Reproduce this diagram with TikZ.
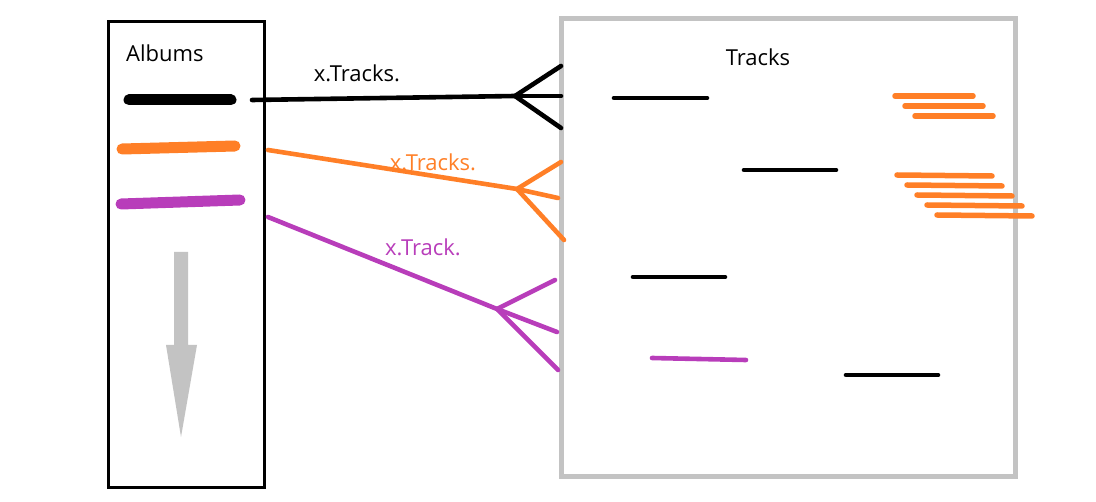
\documentclass[tikz,border=0pt]{standalone}
\usepackage{fontspec}
\setmainfont{Open Sans}
\definecolor{penorange}{RGB}{255,127,39}
\definecolor{penpurple}{RGB}{184,61,186}
\definecolor{pengray}{RGB}{195,195,195}
\tikzset{
  pen/.style={line width=4.6, line cap=round, line join=round},
  fat/.style={line width=11, line cap=round},
  label/.style={font=\fontsize{22}{26}\selectfont, inner sep=0pt}
}
\begin{document}
\begin{tikzpicture}[x=1pt, y=-1pt]
	\useasboundingbox (0,0) rectangle (1096,502);
	% the two boxes
	\draw[line width=3] (108,22) rectangle (264,488);
	\draw[pengray, line width=5] (561,19) rectangle (1015,477);
	\node[label, anchor=west] (albums) at (126,53) {Albums};
	\node[label] (tracks) at (758,57) {Tracks};
	% albums
	\draw[fat] (129,100) -- (231,100);
	\draw[fat, penorange] (122,149) -- (235,146);
	\draw[fat, penpurple] (121,204) -- (240,200);
	% order arrow
	\fill[pengray] (174,252) -- (188,252) -- (188,345) -- (197,345) -- (181,437) -- (166,345) -- (174,345) -- cycle;
	% black one to many
	\coordinate (fb) at (515,96);
	\draw[pen] (252,100) -- (fb);
	\draw[pen] (561,66) -- (fb) -- (561,128);
	\draw[pen] (fb) -- (561,96);
	\node[label] (lb) at (357,73) {x.Tracks.};
	% orange one to many
	\coordinate (fo) at (517,189);
	\draw[pen, penorange] (268,150) -- (fo);
	\draw[pen, penorange] (561,162) -- (fo) -- (564,240);
	\draw[pen, penorange] (fo) -- (558,198);
	\node[label, penorange] (lo) at (433,162) {x.Tracks.};
	% purple one to many
	\coordinate (fp) at (497,309);
	\draw[pen, penpurple] (268,217) -- (fp);
	\draw[pen, penpurple] (555,280) -- (fp) -- (558,370);
	\draw[pen, penpurple] (fp) -- (557,332);
	\node[label, penpurple] (lp) at (423,247) {x.Track.};
	% tracks
	\draw[pen] (614,98) -- (707,98);
	\draw[pen] (744,170) -- (836,170);
	\draw[pen] (633,277) -- (725,277);
	\draw[pen] (846,375) -- (938,375);
	\draw[pen, penpurple] (652,358) -- (746,360);
	\foreach \i in {0,1,2}
		\draw[pen, line width=5.5, penorange] (895+10*\i,96+10*\i) -- (973+10*\i,96+10*\i);
	\foreach \i in {0,...,4}
		\draw[pen, line width=5.5, penorange] (897+10*\i,175+10*\i) -- (992+10*\i,176+10*\i);
\end{tikzpicture}
\end{document}
